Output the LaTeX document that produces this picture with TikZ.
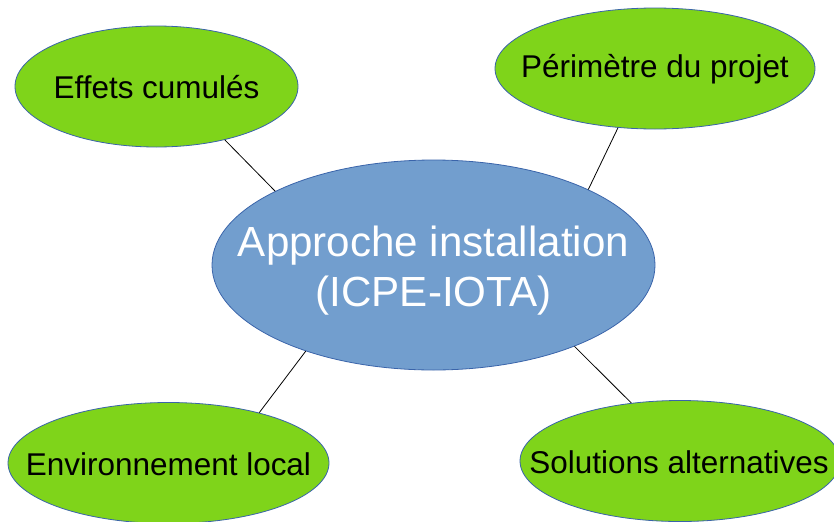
\documentclass[tikz,border=0pt]{standalone}
\usepackage{fontspec}
\setmainfont{Liberation Sans}
\usetikzlibrary{shapes.geometric}
\definecolor{leafgreen}{RGB}{127,212,26}
\definecolor{hubblue}{RGB}{114,158,206}
\definecolor{edgeblue}{RGB}{58,100,170}
\begin{document}
\begin{tikzpicture}[x=0.75pt,y=-0.75pt,
  oval/.style={ellipse,draw=edgeblue,line width=0.6pt,inner sep=0pt},
  leaf/.style={oval,fill=leafgreen,minimum height=90.75pt},
  hub/.style={oval,fill=hubblue,minimum width=332.25pt,minimum height=157.5pt},
  leaftext/.style={inner sep=0pt,text=black,font=\fontsize{23.6pt}{28pt}\selectfont},
  hubtext/.style={inner sep=0pt,align=center,text=white,font=\fontsize{31.6pt}{37.5pt}\selectfont},
  link/.style={draw=black,line width=0.6pt}]
\useasboundingbox (0,0) rectangle (834,521);
\node[hub] (c) at (433.5,265) {};
\node[hubtext] (ct) at (433.5,271) {Approche installation\\(ICPE-IOTA)};
\node[leaf,minimum width=212.25pt] (tl) at (156.5,86.5) {};
\node[leaftext] (tlt) at (156.5,87.5) {Effets cumulés};
\node[leaf,minimum width=240pt] (tr) at (655,68.5) {};
\node[leaftext] (trt) at (655,69.5) {Périmètre du projet};
\node[leaf,minimum width=240.75pt] (bl) at (168.5,463) {};
\node[leaftext] (blt) at (168.5,464) {Environnement local};
\node[leaf,minimum width=240pt] (br) at (680,461) {};
\node[leaftext] (brt) at (679,462) {Solutions alternatives};
\draw[link] (c.155.8) -- (tl.322.5);
\draw[link] (c.26.7) -- (tr.238.1);
\draw[link] (c.214.4) -- (bl.29.2);
\draw[link] (c.330.9) -- (br.130.8);
\end{tikzpicture}
\end{document}
